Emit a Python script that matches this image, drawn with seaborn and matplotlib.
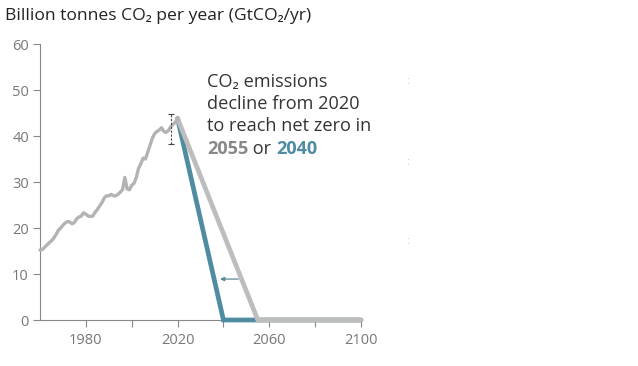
import matplotlib
matplotlib.use("Agg")
import matplotlib.pyplot as plt
import seaborn as sns
import pandas as pd

# historical emissions, GtCO2/yr
hist_years = list(range(1960, 2021))
hist_values = [15.2, 15.3, 15.8, 16.3, 16.8, 17.2, 17.8, 18.6, 19.5, 20.0,
               20.6, 21.1, 21.4, 21.3, 20.9, 21.2, 22.0, 22.4, 22.6, 23.3,
               23.0, 22.6, 22.5, 22.6, 23.4, 24.0, 24.8, 25.5, 26.5, 27.0,
               27.0, 27.3, 27.0, 27.0, 27.3, 27.8, 28.3, 31.0, 28.5, 28.3,
               29.3, 29.7, 31.0, 33.0, 34.0, 35.2, 35.0, 36.5, 38.0, 39.5,
               40.5, 41.0, 41.3, 41.8, 41.0, 40.8, 41.2, 42.0, 42.5, 43.0,
               43.8]

# net zero pathways
path_2055_years = [2020, 2055, 2100]
path_2055_values = [43.8, 0, 0]
path_2040_years = [2020, 2040, 2100]
path_2040_values = [43.8, 0, 0]

# uncertainty bar
unc_year = 2017
unc_mid = 41.5
unc_low = 38.3
unc_high = 44.8

x_major = [1980, 2020, 2060, 2100]
x_minor = [2000, 2040, 2080]
y_ticks = [0, 10, 20, 30, 40, 50, 60]

GRAY_HIST = "#b3b3b3"
GRAY_PATH = "#bdbdbd"
BLUE = "#4f8ba1"
TICK_C = "#777777"

sns.set_style("white")
plt.rcParams["font.family"] = ["Open Sans", "DejaVu Sans"]

fig = plt.figure(figsize=(6.38, 3.66), dpi=100)
ax = fig.add_axes([40 / 638, 1 - 320 / 366, 321 / 638, 276 / 366])

hist = pd.DataFrame({"year": hist_years, "value": hist_values})
p40 = pd.DataFrame({"year": path_2040_years, "value": path_2040_values})
p55 = pd.DataFrame({"year": path_2055_years, "value": path_2055_values})

sns.lineplot(data=p40, x="year", y="value", ax=ax, color=BLUE, lw=3.4,
             solid_joinstyle="miter", clip_on=False, zorder=3)
sns.lineplot(data=p55, x="year", y="value", ax=ax, color=GRAY_PATH, lw=3.4,
             solid_joinstyle="miter", clip_on=False, zorder=4)
sns.lineplot(data=hist, x="year", y="value", ax=ax, color=GRAY_HIST, lw=2.4,
             clip_on=False, zorder=5)

eb = ax.errorbar([unc_year], [unc_mid],
                 yerr=[[unc_mid - unc_low], [unc_high - unc_mid]],
                 fmt="none", ecolor="#444444", elinewidth=0.8, capsize=2,
                 capthick=0.8, zorder=6)
eb[2][0].set_linestyle((0, (2, 1.5)))

# arrow between the pathways
ax.annotate("", xy=(2038.5, 8.9), xytext=(2046.5, 8.9),
            arrowprops=dict(arrowstyle="-|>", color="#5b8799", lw=0.9,
                            mutation_scale=6, shrinkA=0, shrinkB=0))

ax.set_xlim(1960, 2100)
ax.set_ylim(0, 60)
ax.set_xticks(x_major)
ax.set_xticks(x_minor, minor=True)
ax.set_yticks(y_ticks)
ax.set_xlabel("")
ax.set_ylabel("")

for s in ["top", "right"]:
    ax.spines[s].set_visible(False)
for s in ["left", "bottom"]:
    ax.spines[s].set_color("#888888")
    ax.spines[s].set_linewidth(0.8)

ax.tick_params(axis="both", which="both", direction="out", length=5,
               width=0.8, color="#888888", labelcolor=TICK_C, labelsize=10.5,
               bottom=True, left=True)
ax.tick_params(axis="y", pad=3)
ax.tick_params(axis="x", pad=4)

fig.text(5 / 638, 1 - 20 / 366, "Billion tonnes CO\u2082 per year (GtCO\u2082/yr)",
         fontsize=12.6, color="#222222", va="baseline", ha="left")

# annotation
tx = 207 / 638
fig.text(tx, 1 - 87 / 366, "CO\u2082 emissions", fontsize=13.1, color="#333333",
         va="baseline")
fig.text(tx, 1 - 109 / 366, "decline from 2020", fontsize=13.1, color="#333333",
         va="baseline")
fig.text(tx, 1 - 131 / 366, "to reach net zero in", fontsize=13.1,
         color="#333333", va="baseline")

fig.canvas.draw()
renderer = fig.canvas.get_renderer()
y4 = 1 - 154 / 366
pieces = [("2055", "#888888", "bold"), (" or ", "#333333", "normal"),
          ("2040", BLUE, "bold")]
cur = tx
for txt, col, wt in pieces:
    t = fig.text(cur, y4, txt, fontsize=13.1, color=col, fontweight=wt,
                 va="baseline")
    bb = t.get_window_extent(renderer)
    cur = cur + bb.width / fig.bbox.width

# faint marks on the right
for yy in [82, 162, 242]:
    fig.text(408 / 638, 1 - yy / 366, ":", fontsize=7, color="#bbbbbb",
             ha="center", va="center")

fig.savefig("out.png", dpi=100)
